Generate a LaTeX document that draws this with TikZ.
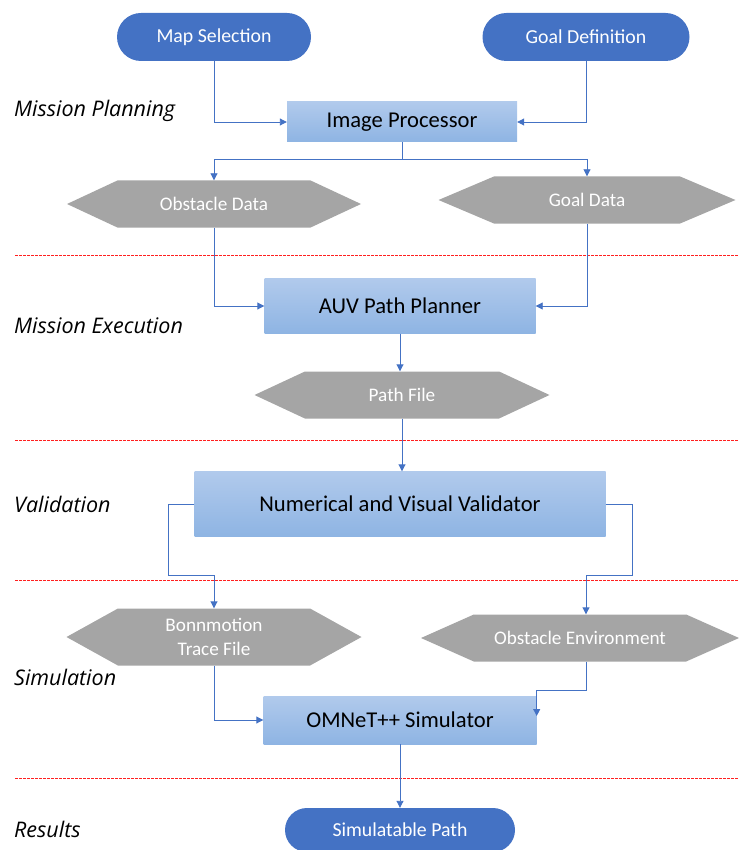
\documentclass[tikz,border=0pt]{standalone}
\usepackage{fontspec}
\setmainfont{Carlito}
\newfontfamily\phasefont{Open Sans}
\usetikzlibrary{shapes.symbols,shapes.misc,arrows.meta}

\definecolor{pillblue}{HTML}{4472C4}
\definecolor{boxtop}{HTML}{B1CAEC}
\definecolor{boxbot}{HTML}{8EB4E3}
\definecolor{datagray}{HTML}{A5A5A5}
\definecolor{linkblue}{HTML}{4472C4}
\definecolor{dividerred}{HTML}{FF2020}

\tikzset{
  terminal/.style={rounded rectangle, fill=pillblue, text=white, inner sep=0pt,
    font=\fontsize{19.8}{23}\selectfont},
  process/.style={rectangle, top color=boxtop, bottom color=boxbot, draw=none,
    inner sep=0pt, font=\fontsize{22.6}{26}\selectfont},
  data/.style={signal, signal to=west and east, fill=datagray, text=white,
    inner sep=0pt, font=\fontsize{19.2}{24}\selectfont, align=center},
  phase/.style={anchor=west, inner sep=0pt, font=\phasefont\itshape\fontsize{21.5}{25}\selectfont},
  conn/.style={draw=linkblue, line width=0.9pt, -{Triangle[length=7pt,width=7pt]}},
  divider/.style={draw=dividerred, line width=0.9pt, dash pattern=on 2.5pt off 1.5pt}
}

\begin{document}
\begin{tikzpicture}[x=1pt,y=-1pt]
\useasboundingbox (0,0) rectangle (739,850);

% phase dividers
\draw[divider] (15,255.5) -- (739,255.5);
\draw[divider] (15,440.5) -- (739,440.5);
\draw[divider] (15,580.5) -- (739,580.5);
\draw[divider] (15,778.5) -- (739,778.5);

% phase labels
\node[phase] (lp) at (14,111) {Mission Planning};
\node[phase] (le) at (14,326) {Mission Execution};
\node[phase] (lv) at (14,504) {Validation};
\node[phase] (ls) at (14,677) {Simulation};
\node[phase] (lr) at (14,829) {Results};

% mission planning
\node[terminal, minimum width=194pt, minimum height=48pt] (ms) at (214,37) {Map Selection};
\node[terminal, minimum width=207pt, minimum height=48pt] (gd) at (586,37) {Goal Definition};
\node[process, minimum width=230pt, minimum height=40pt] (ip) at (402,122) {Image Processor};
\node[data, minimum width=294pt, minimum height=47pt, signal pointer angle=50] (od) at (214,204) {Obstacle Data};
\node[data, minimum width=297pt, minimum height=47pt, signal pointer angle=46] (gdat) at (587,200) {Goal Data};

% mission execution
\node[process, minimum width=271pt, minimum height=55pt] (auv) at (400,306) {AUV Path Planner};
\node[data, minimum width=295pt, minimum height=47pt, signal pointer angle=50] (pf) at (402,395) {Path File};

% validation
\node[process, minimum width=411pt, minimum height=65pt] (val) at (400,504) {Numerical and Visual Validator};

% simulation
\node[data, minimum width=295pt, minimum height=57pt, signal pointer angle=58] (bt) at (214,637) {Bonnmotion\\Trace File};
\node[data, minimum width=318pt, minimum height=47pt, signal pointer angle=48] (oe) at (580,638) {Obstacle Environment};
\node[process, minimum width=273pt, minimum height=48pt] (om) at (400,720) {OMNeT++ Simulator};

% results
\node[terminal, minimum width=230pt, minimum height=44pt] (sp) at (400,830) {Simulatable Path};

% junction points
\coordinate (ipj) at (402,159);
\coordinate (vl) at (168,575);
\coordinate (vr) at (632,575);

% connectors
\draw[conn] (ms.south) |- (ip.west);
\draw[conn] (gd.south) |- (ip.east);
\draw[conn] (ip.south) -- (ipj) -| (od.north);
\draw[conn] (ipj) -| (gdat.north);
\draw[conn] (od.south) |- (auv.west);
\draw[conn] (gdat.south) |- (auv.east);
\draw[conn] (auv.south) -- (auv.south |- pf.north);
\draw[conn] (pf.south) -- (pf.south |- val.north);
\draw[conn] (val.west) -| (vl) -| (bt.north);
\draw[conn] (val.east) -| (vr) -| ([xshift=6pt]oe.north);
\draw[conn] (bt.south) |- (om.west);
\draw[conn] ([xshift=6pt]oe.south) |- ([yshift=30pt]om.east) -- ([yshift=4pt]om.east);
\draw[conn] (om.south) -- (sp.north);
\end{tikzpicture}
\end{document}
